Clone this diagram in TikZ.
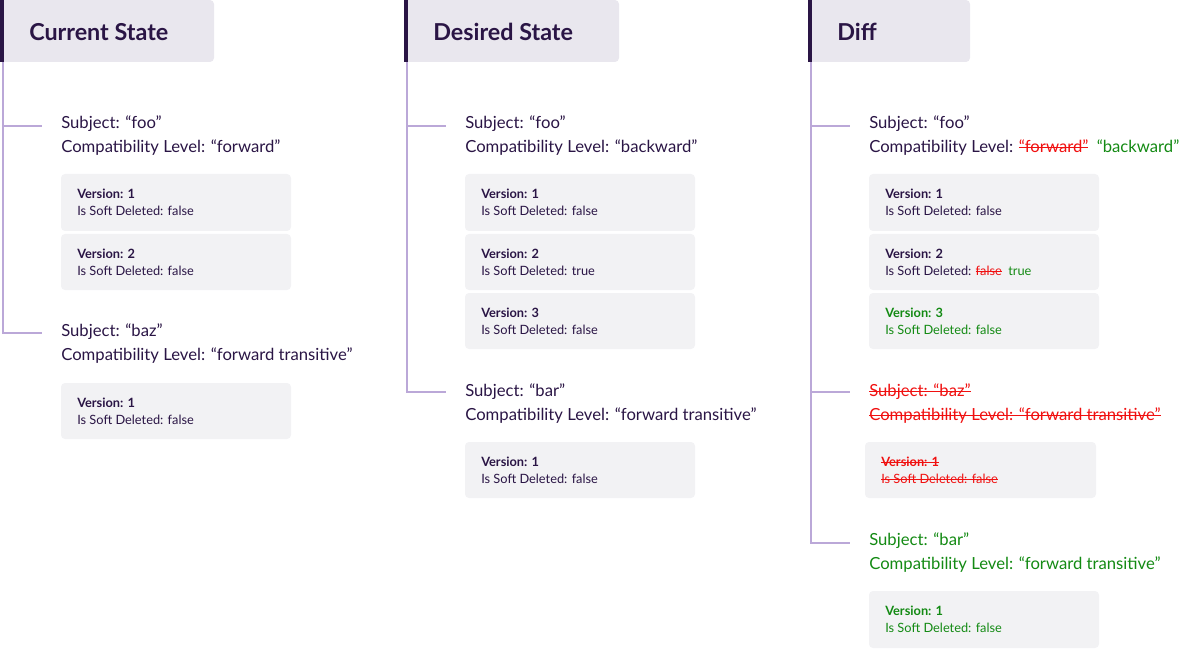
\documentclass[tikz,border=0pt]{standalone}
\usepackage{fontspec}
\setmainfont{Lato}
\newcommand{\sk}[1]{\setbox0\hbox{#1}\rlap{\rule[0.3em]{\wd0}{0.07em}}\box0}
\definecolor{ink}{HTML}{2A1545}
\definecolor{hdr}{HTML}{E9E7EE}
\definecolor{boxc}{HTML}{F2F2F4}
\definecolor{branch}{HTML}{BBA8D8}
\definecolor{del}{HTML}{F01010}
\definecolor{add}{HTML}{138A13}
\tikzset{
 hbox/.style={fill=hdr,rounded corners=3pt},
 hbar/.style={fill=ink},
 title/.style={anchor=west,inner sep=0,font=\bfseries\fontsize{17.5}{20}\selectfont,text=ink},
 subj/.style={anchor=west,inner sep=0,font=\fontsize{12.5}{15}\selectfont,text=ink},
 vbox/.style={fill=boxc,rounded corners=3pt},
 vtxt/.style={anchor=west,inner sep=0,font=\fontsize{9.6}{12}\selectfont,text=ink},
 vbold/.style={vtxt,font=\bfseries\fontsize{9.6}{12}\selectfont},
 tree/.style={draw=branch,line width=2.2pt},
}
\begin{document}
\begin{tikzpicture}[x=0.75pt,y=-0.75pt]
\useasboundingbox (0,0) rectangle (1200,649);
% column headers
\foreach \ox/\w/\t/\n in {0/214/Current State/h1,404/619/Desired State/h2,808/970/Diff/h3}{
  \fill[hbox] (\ox,0) rectangle (\w,62);
  \fill[hbar] (\ox,0) rectangle (\ox+4,62);
  \node[title] (\n) at (\ox+29,32) {\t};
}
% trees
\coordinate (t1a) at (3,62); \coordinate (t1b) at (3,333);
\coordinate (t2a) at (407,62); \coordinate (t2b) at (407,392);
\coordinate (t3a) at (811,62); \coordinate (t3b) at (811,543);
\draw[tree] (t1a) -- (t1b) -- (42,333); \draw[tree] (3,126) -- (42,126);
\draw[tree] (t2a) -- (t2b) -- (446,392); \draw[tree] (407,126) -- (446,126);
\draw[tree] (t3a) -- (t3b) -- (850,543); \draw[tree] (811,126) -- (850,126); \draw[tree] (811,392) -- (850,392);
% boxes
\newcommand{\vb}[6]{% x y1 y2 v deleted color
 \fill[vbox] (#1,#2) rectangle (#1+230,#3);
 \node[vbold,text=#6] at (#1+16,#2+20) {#4};
 \node[vtxt,text=#6] at (#1+16,#2+37) {#5};}
% column 1
\node[subj] (s1) at (61,124) {Subject: “foo”};
\node[subj] at (61,148) {Compatibility Level: “forward”};
\vb{61}{174}{231}{Version: 1}{Is Soft Deleted: false}{ink}
\vb{61}{234}{290}{Version: 2}{Is Soft Deleted: false}{ink}
\node[subj] at (61,332) {Subject: “baz”};
\node[subj] at (61,356) {Compatibility Level: “forward transitive”};
\vb{61}{383}{439}{Version: 1}{Is Soft Deleted: false}{ink}
% column 2
\node[subj] at (465,124) {Subject: “foo”};
\node[subj] at (465,148) {Compatibility Level: “backward”};
\vb{465}{174}{231}{Version: 1}{Is Soft Deleted: false}{ink}
\vb{465}{234}{290}{Version: 2}{Is Soft Deleted: true}{ink}
\vb{465}{293}{349}{Version: 3}{Is Soft Deleted: false}{ink}
\node[subj] at (465,392) {Subject: “bar”};
\node[subj] at (465,416) {Compatibility Level: “forward transitive”};
\vb{465}{442}{498}{Version: 1}{Is Soft Deleted: false}{ink}
% column 3
\node[subj] at (869,124) {Subject: “foo”};
\node[subj] at (869,148) {Compatibility Level: \textcolor{del}{\sk{“forward”}}\enspace\textcolor{add}{“backward”}};
\vb{869}{174}{231}{Version: 1}{Is Soft Deleted: false}{ink}
\vb{869}{234}{290}{Version: 2}{Is Soft Deleted: \textcolor{del}{\sk{false}}\enspace\textcolor{add}{true}}{ink}
\vb{869}{293}{349}{Version: 3}{Is Soft Deleted: false}{add}
\node[subj,text=del] at (869,392) {\sk{Subject: “baz”}};
\node[subj,text=del] at (869,416) {\sk{Compatibility Level: “forward transitive”}};
\fill[vbox] (865,442) rectangle (1096,498);
\node[vbold,text=del] at (881,462) {\sk{Version: 1}};
\node[vtxt,text=del] at (881,479) {\sk{Is Soft Deleted: false}};
\node[subj,text=add] at (869,541) {Subject: “bar”};
\node[subj,text=add] at (869,565) {Compatibility Level: “forward transitive”};
\vb{869}{591}{648}{Version: 1}{Is Soft Deleted: false}{add}
\end{tikzpicture}
\end{document}
